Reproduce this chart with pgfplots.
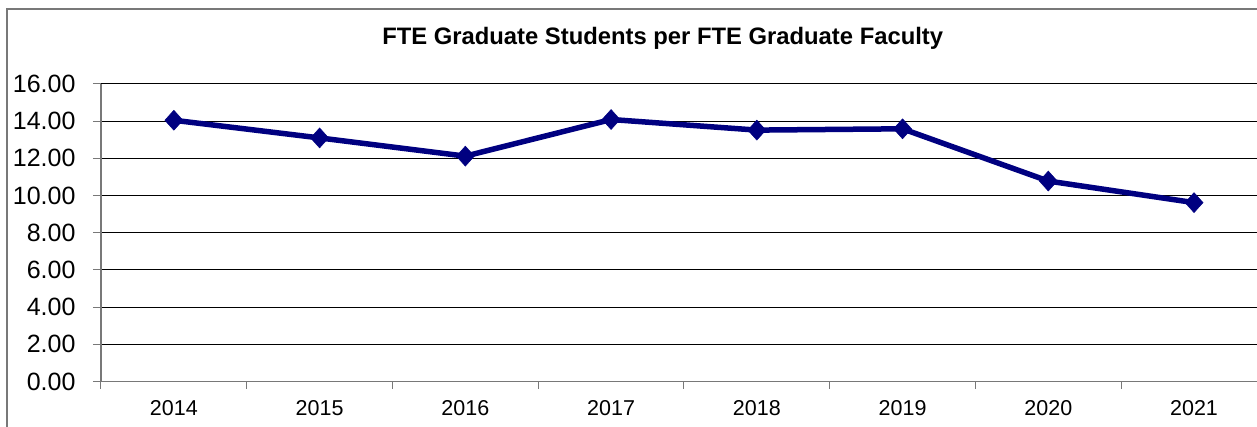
\documentclass[border=0pt]{standalone}
\usepackage{pgfplots}
\pgfplotsset{compat=1.18}
\usepackage{fontspec}
\setmainfont{Liberation Sans}
\definecolor{navyline}{RGB}{0,0,128}
\definecolor{axgray}{RGB}{120,120,120}
\begin{document}
\begin{tikzpicture}[x=1pt,y=1pt]
\useasboundingbox (0,0) rectangle (1257,426);
\clip (0,0) rectangle (1257,426);
\draw[axgray, line width=1.5pt] (7,-30) -- (7,417) -- (1300,417);
\node[anchor=base, font=\fontsize{23.8}{26}\selectfont\bfseries] at (662.7,381) {FTE Graduate Students per FTE Graduate Faculty};
\begin{axis}[
  at={(101pt,44.5pt)}, anchor=south west,
  scale only axis, width=1166pt, height=297.5pt,
  xmin=-0.5, xmax=7.5, ymin=0, ymax=16,
  axis x line*=bottom, axis y line*=left,
  axis line style={axgray, line width=1.2pt, -},
  xtick={0,...,7},
  xticklabels={2014,2015,2016,2017,2018,2019,2020,2021},
  major x tick style={draw=none},
  minor xtick={-0.5,0.5,...,7.5},
  minor tick length=7pt,
  minor x tick style={axgray, line width=1pt},
  ytick={0,2,...,16},
  yticklabel={\pgfmathprintnumber[fixed,fixed zerofill,precision=2]{\tick}},
  /pgf/number format/assume math mode=true,
  major tick length=8pt,
  tick align=outside,
  major y tick style={axgray, line width=1pt},
  ymajorgrids, grid style={black, line width=1pt},
  yticklabel style={font=\fontsize{25}{28}\selectfont, anchor=east, xshift=-14pt},
  xticklabel style={font=\fontsize{21.5}{24}\selectfont, anchor=base, yshift=-26pt},
  clip=false,
]
\addplot[navyline, line width=5.5pt, mark=diamond*, mark size=10pt,
  mark options={xscale=1.2, solid, line width=0.5pt}]
  coordinates {(0,14.05) (1,13.10) (2,12.12) (3,14.09) (4,13.52) (5,13.59) (6,10.78) (7,9.62)};
\end{axis}
\end{tikzpicture}
\end{document}
